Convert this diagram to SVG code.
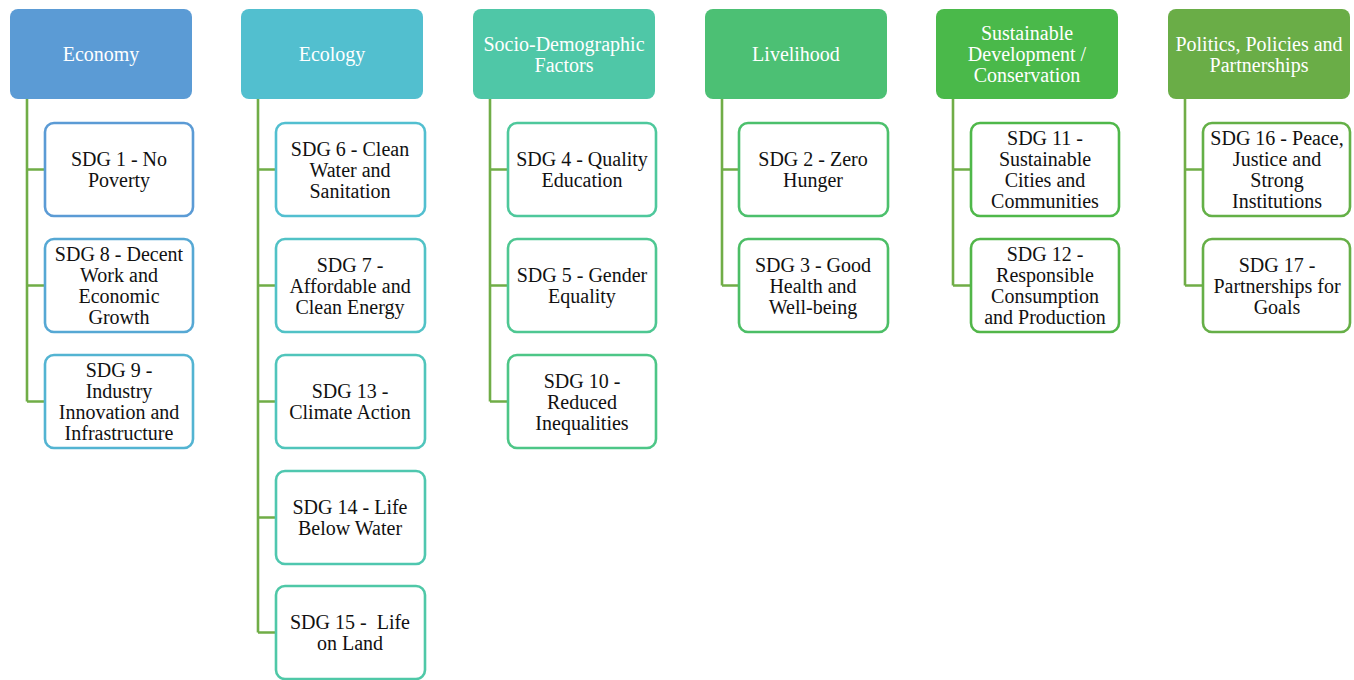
<svg xmlns="http://www.w3.org/2000/svg" width="1354" height="680" viewBox="0 0 1354 680">
  <style>
    text { font-size: 20px; text-anchor: middle; }
    .hd text { fill: #ffffff; }
    .ch text { fill: #111111; }
    .ch rect { fill: #ffffff; stroke-width: 2.6; }
    .link { fill: none; stroke: #70AD47; stroke-width: 2.6; }
  </style>
  <rect width="1354" height="680" fill="#ffffff"/>

  <!-- connectors: trunk from each header plus a stub into every child -->
  <g id="connectors" class="link">
    <path d="M27 99 V401.5 M27 169.5 H45 M27 285.5 H45 M27 401.5 H45"/>
    <path d="M258 99 V632.5 M258 169.5 H276 M258 285.5 H276 M258 401.5 H276 M258 517.5 H276 M258 632.5 H276"/>
    <path d="M490 99 V401.5 M490 169.5 H508 M490 285.5 H508 M490 401.5 H508"/>
    <path d="M722 99 V285.5 M722 169.5 H739 M722 285.5 H739"/>
    <path d="M953 99 V285.5 M953 169.5 H971 M953 285.5 H971"/>
    <path d="M1185 99 V285.5 M1185 169.5 H1203 M1185 285.5 H1203"/>
  </g>

  <g id="nodes" font-family="'Liberation Serif', 'Times New Roman', Times, serif">
  <!-- category headers -->
  <g id="economy" class="hd">
    <rect x="10" y="9" width="182" height="90" rx="8" fill="#5B9BD5"/>
    <text x="101" y="61">Economy</text>
  </g>
  <g id="ecology" class="hd">
    <rect x="241" y="9" width="182" height="90" rx="8" fill="#52BFCF"/>
    <text x="332" y="61">Ecology</text>
  </g>
  <g id="socio-demographic" class="hd">
    <rect x="473" y="9" width="182" height="90" rx="8" fill="#4FC7A7"/>
    <text x="564" y="50.5">Socio-Demographic</text>
    <text x="564" y="71.5">Factors</text>
  </g>
  <g id="livelihood" class="hd">
    <rect x="705" y="9" width="182" height="90" rx="8" fill="#4CC074"/>
    <text x="796" y="61">Livelihood</text>
  </g>
  <g id="sustainable-development" class="hd">
    <rect x="936" y="9" width="182" height="90" rx="8" fill="#4AB94A"/>
    <text x="1027" y="40">Sustainable</text>
    <text x="1027" y="61">Development /</text>
    <text x="1027" y="82">Conservation</text>
  </g>
  <g id="politics" class="hd">
    <rect x="1168" y="9" width="182" height="90" rx="8" fill="#6AAD47"/>
    <text x="1259" y="50.5">Politics, Policies and</text>
    <text x="1259" y="71.5">Partnerships</text>
  </g>

  <!-- Economy goals -->
  <g id="sdg1" class="ch">
    <rect x="45" y="123" width="148" height="93" rx="9" stroke="#5B9BD5"/>
    <text x="119" y="166">SDG 1 - No</text>
    <text x="119" y="187">Poverty</text>
  </g>
  <g id="sdg8" class="ch">
    <rect x="45" y="239" width="148" height="93" rx="9" stroke="#56A8D4"/>
    <text x="119" y="261">SDG 8 - Decent</text>
    <text x="119" y="282">Work and</text>
    <text x="119" y="303">Economic</text>
    <text x="119" y="324">Growth</text>
  </g>
  <g id="sdg9" class="ch">
    <rect x="45" y="355" width="148" height="93" rx="9" stroke="#53B4D2"/>
    <text x="119" y="377">SDG 9 -</text>
    <text x="119" y="398">Industry</text>
    <text x="119" y="419">Innovation and</text>
    <text x="119" y="440">Infrastructure</text>
  </g>

  <!-- Ecology goals -->
  <g id="sdg6" class="ch">
    <rect x="276" y="123" width="149" height="93" rx="9" stroke="#52BFD0"/>
    <text x="350" y="155.5">SDG 6 - Clean</text>
    <text x="350" y="176.5">Water and</text>
    <text x="350" y="197.5">Sanitation</text>
  </g>
  <g id="sdg7" class="ch">
    <rect x="276" y="239" width="149" height="93" rx="9" stroke="#51C2C6"/>
    <text x="350" y="271.5">SDG 7 -</text>
    <text x="350" y="292.5">Affordable and</text>
    <text x="350" y="313.5">Clean Energy</text>
  </g>
  <g id="sdg13" class="ch">
    <rect x="276" y="355" width="149" height="93" rx="9" stroke="#50C5BB"/>
    <text x="350" y="398">SDG 13 -</text>
    <text x="350" y="419">Climate Action</text>
  </g>
  <g id="sdg14" class="ch">
    <rect x="276" y="471" width="149" height="93" rx="9" stroke="#4FC7AF"/>
    <text x="350" y="514">SDG 14 - Life</text>
    <text x="350" y="535">Below Water</text>
  </g>
  <g id="sdg15" class="ch">
    <rect x="276" y="586" width="149" height="93" rx="9" stroke="#4FC8A7"/>
    <text x="350" y="629" xml:space="preserve">SDG 15 -  Life</text>
    <text x="350" y="650">on Land</text>
  </g>

  <!-- Socio-Demographic goals -->
  <g id="sdg4" class="ch">
    <rect x="508" y="123" width="148" height="93" rx="9" stroke="#4EC89C"/>
    <text x="582" y="166">SDG 4 - Quality</text>
    <text x="582" y="187">Education</text>
  </g>
  <g id="sdg5" class="ch">
    <rect x="508" y="239" width="148" height="93" rx="9" stroke="#4EC792"/>
    <text x="582" y="282">SDG 5 - Gender</text>
    <text x="582" y="303">Equality</text>
  </g>
  <g id="sdg10" class="ch">
    <rect x="508" y="355" width="148" height="93" rx="9" stroke="#4DC687"/>
    <text x="582" y="387.5">SDG 10 -</text>
    <text x="582" y="408.5">Reduced</text>
    <text x="582" y="429.5">Inequalities</text>
  </g>

  <!-- Livelihood goals -->
  <g id="sdg2" class="ch">
    <rect x="739" y="123" width="149" height="93" rx="9" stroke="#4CC06C"/>
    <text x="813" y="166">SDG 2 - Zero</text>
    <text x="813" y="187">Hunger</text>
  </g>
  <g id="sdg3" class="ch">
    <rect x="739" y="239" width="149" height="93" rx="9" stroke="#4CBE66"/>
    <text x="813" y="271.5">SDG 3 - Good</text>
    <text x="813" y="292.5">Health and</text>
    <text x="813" y="313.5">Well-being</text>
  </g>

  <!-- Sustainable Development goals -->
  <g id="sdg11" class="ch">
    <rect x="971" y="123" width="148" height="93" rx="9" stroke="#4FB84A"/>
    <text x="1045" y="145">SDG 11 -</text>
    <text x="1045" y="166">Sustainable</text>
    <text x="1045" y="187">Cities and</text>
    <text x="1045" y="208">Communities</text>
  </g>
  <g id="sdg12" class="ch">
    <rect x="971" y="239" width="148" height="93" rx="9" stroke="#52B649"/>
    <text x="1045" y="261">SDG 12 -</text>
    <text x="1045" y="282">Responsible</text>
    <text x="1045" y="303">Consumption</text>
    <text x="1045" y="324">and Production</text>
  </g>

  <!-- Politics goals -->
  <g id="sdg16" class="ch">
    <rect x="1203" y="123" width="147" height="93" rx="9" stroke="#64B047"/>
    <text x="1277" y="145">SDG 16 - Peace,</text>
    <text x="1277" y="166">Justice and</text>
    <text x="1277" y="187">Strong</text>
    <text x="1277" y="208">Institutions</text>
  </g>
  <g id="sdg17" class="ch">
    <rect x="1203" y="239" width="147" height="93" rx="9" stroke="#66AF47"/>
    <text x="1277" y="271.5">SDG 17 -</text>
    <text x="1277" y="292.5">Partnerships for</text>
    <text x="1277" y="313.5">Goals</text>
  </g>
  </g>
</svg>
